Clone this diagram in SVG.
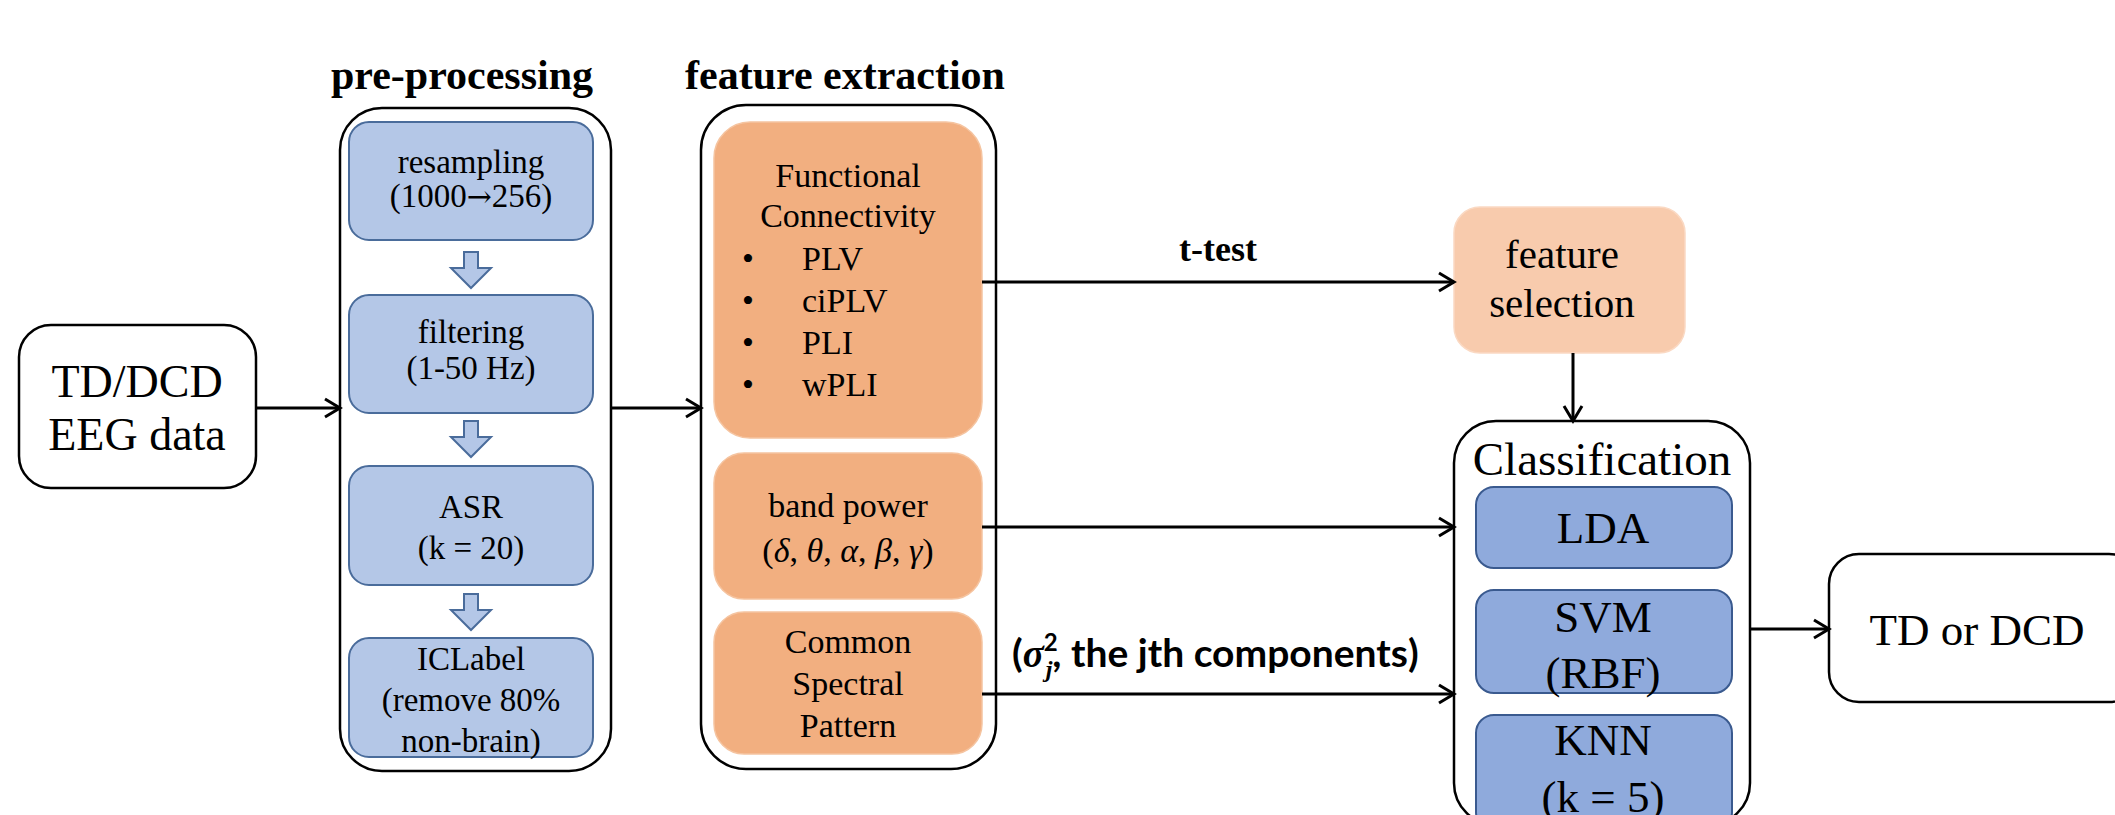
<svg xmlns="http://www.w3.org/2000/svg" width="2115" height="815" viewBox="0 0 2115 815">
  <style>
    .t { font-family: "Liberation Serif", "Times New Roman", serif; fill: #000; text-anchor: middle; }
    .hd { font-family: "Liberation Serif", "Times New Roman", serif; font-weight: bold; font-size: 42px; text-anchor: middle; }
    .frame { fill: #fff; stroke: #000; stroke-width: 2.5; }
    .pre { fill: #B4C7E7; stroke: #4A6C9B; stroke-width: 2; }
    .cls { fill: #8FAADC; stroke: #3A5A8F; stroke-width: 2; }
    .feat { fill: #F2AF80; stroke: #F5C4A0; stroke-width: 1.5; }
    .sel { fill: #F8CBAD; stroke: #FAD9C3; stroke-width: 1.5; }
    .step { fill: #B4C7E7; stroke: #4A6C9B; stroke-width: 2; }
    .wire { fill: none; stroke: #000; stroke-width: 3; marker-end: url(#chev); }
    .lbl { font-family: Lato, "Liberation Sans", sans-serif; font-weight: bold; fill: #000; }
    .math { font-family: "Liberation Serif", serif; font-style: italic; }
  </style>
  <defs>
    <marker id="chev" markerUnits="userSpaceOnUse" markerWidth="22" markerHeight="24" viewBox="0 0 22 24" refX="18" refY="12" orient="auto">
      <path d="M3,3 L18,12 L3,21" fill="none" stroke="#000" stroke-width="3"/>
    </marker>
    <path id="down" d="M-7,0 H7 V16 H20 L0,36 L-20,16 H-7 Z"/>
  </defs>

  <rect width="2115" height="815" fill="#fff"/>

  <!-- section headings -->
  <text class="hd" x="462" y="89">pre-processing</text>
  <text class="hd" x="845" y="89">feature extraction</text>

  <!-- input -->
  <g id="input">
    <rect class="frame" x="19" y="325" width="237" height="163" rx="32"/>
    <text class="t" font-size="46" x="137" y="397">TD/DCD</text>
    <text class="t" font-size="46" x="137" y="450">EEG data</text>
  </g>

  <!-- pre-processing stage -->
  <g id="preprocessing">
    <rect class="frame" x="340" y="108" width="271" height="663" rx="42"/>
    <g id="resampling">
      <rect class="pre" x="349" y="122" width="244" height="118" rx="20"/>
      <text class="t" font-size="33" x="471" y="173">resampling</text>
      <text class="t" font-size="33" x="471" y="207">(1000<tspan font-family="'DejaVu Serif', serif" font-size="30">→</tspan>256)</text>
    </g>
    <use href="#down" class="step" x="471" y="252"/>
    <g id="filtering">
      <rect class="pre" x="349" y="295" width="244" height="118" rx="20"/>
      <text class="t" font-size="33" x="471" y="343">filtering</text>
      <text class="t" font-size="33" x="471" y="379">(1-50 Hz)</text>
    </g>
    <use href="#down" class="step" x="471" y="421"/>
    <g id="asr">
      <rect class="pre" x="349" y="466" width="244" height="119" rx="20"/>
      <text class="t" font-size="33" x="471" y="518">ASR</text>
      <text class="t" font-size="33" x="471" y="559">(k = 20)</text>
    </g>
    <use href="#down" class="step" x="471" y="594"/>
    <g id="iclabel">
      <rect class="pre" x="349" y="638" width="244" height="119" rx="20"/>
      <text class="t" font-size="33" x="471" y="670">ICLabel</text>
      <text class="t" font-size="33" x="471" y="711">(remove 80%</text>
      <text class="t" font-size="33" x="471" y="752">non-brain)</text>
    </g>
  </g>

  <!-- feature extraction stage -->
  <g id="features">
    <rect class="frame" x="701" y="105" width="295" height="664" rx="45"/>
    <g id="connectivity">
      <rect class="feat" x="714" y="122" width="268" height="316" rx="36"/>
      <text class="t" font-size="34" x="848" y="187">Functional</text>
      <text class="t" font-size="34" x="848" y="227">Connectivity</text>
      <g class="t" font-size="34" style="text-anchor:start">
        <text x="742" y="270">•</text><text x="802" y="270">PLV</text>
        <text x="742" y="312">•</text><text x="802" y="312">ciPLV</text>
        <text x="742" y="354">•</text><text x="802" y="354">PLI</text>
        <text x="742" y="396">•</text><text x="802" y="396">wPLI</text>
      </g>
    </g>
    <g id="bandpower">
      <rect class="feat" x="714" y="453" width="268" height="146" rx="30"/>
      <text class="t" font-size="34" x="848" y="517">band power</text>
      <text class="t" font-size="34" x="848" y="562">(<tspan class="math">δ</tspan>, <tspan class="math">θ</tspan>, <tspan class="math">α</tspan>, <tspan class="math">β</tspan>, <tspan class="math">γ</tspan>)</text>
    </g>
    <g id="csp">
      <rect class="feat" x="714" y="612" width="268" height="142" rx="30"/>
      <text class="t" font-size="34" x="848" y="653">Common</text>
      <text class="t" font-size="34" x="848" y="695">Spectral</text>
      <text class="t" font-size="34" x="848" y="737">Pattern</text>
    </g>
  </g>

  <!-- feature selection -->
  <g id="selection">
    <rect class="sel" x="1454" y="207" width="231" height="146" rx="26"/>
    <text class="t" font-size="41" x="1562" y="268">feature</text>
    <text class="t" font-size="41" x="1562" y="317">selection</text>
  </g>

  <!-- classifiers -->
  <g id="classification">
    <rect class="frame" x="1454" y="421" width="296" height="404" rx="42"/>
    <text class="t" font-size="47" x="1602" y="475">Classification</text>
    <g id="lda">
      <rect class="cls" x="1476" y="487" width="256" height="81" rx="18"/>
      <text class="t" font-size="45" x="1603" y="543">LDA</text>
    </g>
    <g id="svm">
      <rect class="cls" x="1476" y="590" width="256" height="103" rx="18"/>
      <text class="t" font-size="45" x="1603" y="632">SVM</text>
      <text class="t" font-size="45" x="1603" y="688">(RBF)</text>
    </g>
    <g id="knn">
      <rect class="cls" x="1476" y="715" width="256" height="115" rx="18"/>
      <text class="t" font-size="45" x="1603" y="755">KNN</text>
      <text class="t" font-size="45" x="1603" y="812">(k = 5)</text>
    </g>
  </g>

  <!-- output -->
  <g id="output">
    <rect class="frame" x="1829" y="554" width="310" height="148" rx="30"/>
    <text class="t" font-size="45" x="1977" y="645">TD or DCD</text>
  </g>

  <!-- connectors -->
  <g id="connectors">
    <line class="wire" x1="256" y1="408" x2="340" y2="408"/>
    <line class="wire" x1="611" y1="408" x2="701" y2="408"/>
    <line class="wire" x1="982" y1="282" x2="1454" y2="282"/>
    <line class="wire" x1="1573" y1="353" x2="1573" y2="421"/>
    <line class="wire" x1="982" y1="527" x2="1454" y2="527"/>
    <line class="wire" x1="982" y1="694" x2="1454" y2="694"/>
    <line class="wire" x1="1750" y1="629" x2="1829" y2="629"/>
    <text class="t" font-size="36" font-weight="bold" x="1218" y="261">t-test</text>
    <text class="lbl" font-size="39" x="1012" y="667">(<tspan class="math">σ</tspan><tspan font-size="24" dy="-16">2</tspan><tspan class="math" font-size="24" dx="-12" dy="26">j</tspan><tspan dy="-10">, the jth components)</tspan></text>
  </g>
</svg>
